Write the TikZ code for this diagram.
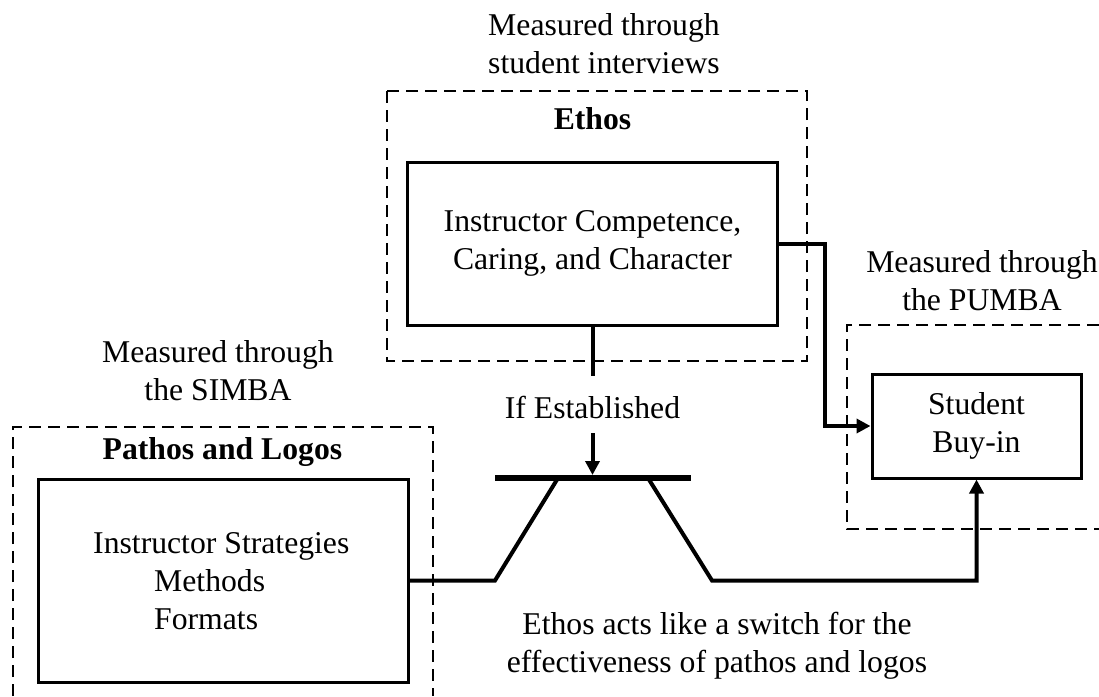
\documentclass[tikz,border=0pt]{standalone}
\usepackage{fontspec}
\setmainfont{Liberation Serif}
\usetikzlibrary{arrows.meta}
\begin{document}
\begin{tikzpicture}[x=1pt,y=-1pt,
  every node/.style={font=\fontsize{31.7}{38}\selectfont, inner sep=0pt},
  solidbox/.style={draw, line width=3pt, align=center},
  group/.style={line width=2.8pt, dash pattern=on 12pt off 7pt},
  wire/.style={line width=4pt},
  bar/.style={line width=6pt},
  tip/.style={-{Triangle[length=14pt,width=14pt]}},
  title/.style={font=\fontsize{31.7}{38}\selectfont\bfseries},
  label/.style={align=center}]
\useasboundingbox (0,0) rectangle (1099,696);

% dashed groupings
\draw[group] (387,91) rectangle (807,361);
\draw[group] (13,696) -- (13,427) -- (433,427) -- (433,696);
\draw[group] (1099,325) -- (847,325) -- (847,529) -- (1099,529);

% captions of the groups
\node[label] (capEthos) at (604,44) {Measured through\\student interviews};
\node[label] (capSimba) at (218,371) {Measured through\\the SIMBA};
\node[label] (capPumba) at (982,281) {Measured through\\the PUMBA};
\node[title] (tEthos) at (592.5,119) {Ethos};
\node[title] (tPathos) at (222.5,451.6) {Pathos and Logos};

% boxes
\node[solidbox, minimum width=370, minimum height=163] (ethos) at (592.5,243.5)
  {Instructor Competence,\\Caring, and Character};
\node[solidbox, minimum width=370, minimum height=203] (strat) at (223,580.5) {};
\node[anchor=north west, align=left] (strattext) at (93,532.5)
  {Instructor Strategies\\\hspace*{61pt}Methods\\\hspace*{61pt}Formats};
\node[solidbox, minimum width=209, minimum height=104] (buyin) at (976.5,426)
  {Student\\Buy-in};

% the switch
\coordinate (barL) at (495,478);
\coordinate (barR) at (691,478);
\coordinate (barC) at (592.5,478);
\coordinate (pivL) at (558,478);
\coordinate (pivR) at (648,478);
\coordinate (footL) at (495,580.5);
\coordinate (footR) at (712,580.5);
\draw[bar] (barL) -- (barR);

% connectors
\coordinate (ethosTail) at (592.5,376);
\coordinate (armTop) at (592.5,433);
\coordinate (elbow) at (825,243.5);
\node (ifEst) at (592.5,407) {If Established};
\draw[wire] (ethos.south) -- (ethosTail);
\draw[wire, tip, shorten >=3pt] (armTop) -- (barC);
\draw[wire, line join=miter] (strat.east) -- (footL) -- (pivL);
\draw[wire, tip, line join=miter] (pivR) -- (footR) -| (buyin.south);
\draw[wire, tip, line join=miter] (ethos.east) -- (elbow) |- (buyin.west);

\node[label] (note) at (717,645.6)
  {Ethos acts like a switch for the\\effectiveness of pathos and logos};
\end{tikzpicture}
\end{document}
